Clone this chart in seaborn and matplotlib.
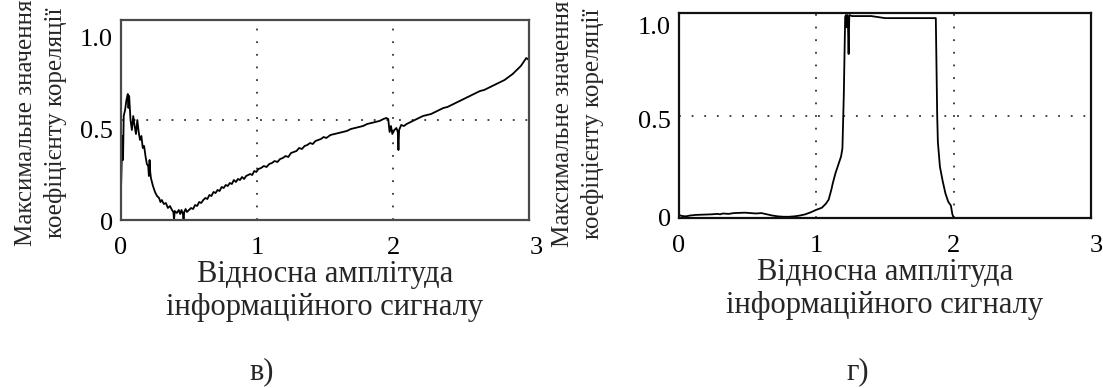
import matplotlib
matplotlib.use("Agg")
import matplotlib.pyplot as plt
from matplotlib.transforms import ScaledTranslation
import numpy as np
import pandas as pd
import seaborn as sns

# Panel "в": correlation maximum vs relative amplitude
amp_v = [0.000, 0.005, 0.010, 0.015, 0.020, 0.030, 0.040, 0.050, 0.055, 0.060,
         0.070, 0.080, 0.090, 0.100, 0.110, 0.120, 0.130, 0.140, 0.150, 0.160,
         0.170, 0.180, 0.190, 0.200, 0.205, 0.210, 0.215, 0.220, 0.235, 0.250,
         0.265, 0.280, 0.290, 0.300, 0.315, 0.330, 0.345, 0.360, 0.375, 0.385,
         0.390, 0.395, 0.410, 0.425, 0.435, 0.445, 0.455, 0.460, 0.465, 0.475,
         0.485, 0.500, 0.515, 0.530, 0.545, 0.560, 0.575, 0.590, 0.605, 0.620,
         0.635, 0.650, 0.665, 0.680, 0.695, 0.710, 0.725, 0.740, 0.755, 0.770,
         0.785, 0.800, 0.815, 0.830, 0.845, 0.860, 0.875, 0.890, 0.905, 0.920,
         0.935, 0.950, 0.965, 0.980, 0.995, 1.010, 1.030, 1.050, 1.070, 1.090,
         1.110, 1.130, 1.150, 1.170, 1.190, 1.210, 1.230, 1.250, 1.270, 1.290,
         1.310, 1.330, 1.350, 1.370, 1.390, 1.410, 1.430, 1.450, 1.470, 1.490,
         1.510, 1.540, 1.570, 1.600, 1.630, 1.660, 1.690, 1.720, 1.750, 1.780,
         1.810, 1.840, 1.870, 1.900, 1.930, 1.950, 1.965, 1.975, 1.985, 1.995,
         2.010, 2.025, 2.035, 2.040, 2.045, 2.060, 2.080, 2.100, 2.130, 2.160,
         2.190, 2.220, 2.250, 2.280, 2.310, 2.340, 2.370, 2.400, 2.430, 2.460,
         2.490, 2.520, 2.550, 2.580, 2.610, 2.640, 2.670, 2.700, 2.730, 2.760,
         2.790, 2.820, 2.850, 2.880, 2.910, 2.940, 2.960, 2.980, 3.000]
corr_v = [0.15, 0.28, 0.42, 0.30, 0.52, 0.55, 0.60, 0.63, 0.56, 0.62,
          0.50, 0.45, 0.52, 0.47, 0.43, 0.50, 0.44, 0.40, 0.42, 0.36,
          0.37, 0.32, 0.28, 0.27, 0.22, 0.30, 0.24, 0.21, 0.17, 0.14,
          0.12, 0.11, 0.09, 0.10, 0.08, 0.085, 0.06, 0.07, 0.05, 0.04,
          0.00, 0.045, 0.035, 0.05, 0.03, 0.05, 0.03, 0.00, 0.04, 0.055,
          0.04, 0.05, 0.06, 0.055, 0.075, 0.07, 0.09, 0.085, 0.10, 0.11,
          0.105, 0.125, 0.12, 0.14, 0.135, 0.15, 0.145, 0.165, 0.16, 0.175,
          0.17, 0.185, 0.18, 0.20, 0.19, 0.205, 0.20, 0.215, 0.205, 0.22,
          0.225, 0.23, 0.225, 0.245, 0.24, 0.255, 0.26, 0.27, 0.265, 0.28,
          0.285, 0.295, 0.29, 0.305, 0.31, 0.32, 0.315, 0.335, 0.34, 0.345,
          0.36, 0.355, 0.37, 0.375, 0.385, 0.38, 0.395, 0.40, 0.405, 0.415,
          0.41, 0.425, 0.43, 0.435, 0.44, 0.445, 0.455, 0.46, 0.465, 0.47,
          0.48, 0.485, 0.49, 0.495, 0.505, 0.51, 0.505, 0.44, 0.47, 0.43,
          0.45, 0.46, 0.44, 0.35, 0.45, 0.475, 0.47, 0.48, 0.49, 0.50,
          0.51, 0.52, 0.525, 0.53, 0.54, 0.55, 0.56, 0.565, 0.575, 0.585,
          0.595, 0.605, 0.615, 0.625, 0.635, 0.645, 0.65, 0.66, 0.67, 0.68,
          0.69, 0.70, 0.715, 0.73, 0.75, 0.77, 0.79, 0.81, 0.80]

# Panel "г": correlation maximum vs relative amplitude
amp_g = [0.000, 0.020, 0.050, 0.080, 0.120, 0.160, 0.200, 0.240, 0.280, 0.300,
         0.320, 0.360, 0.400, 0.440, 0.480, 0.520, 0.560, 0.600, 0.640, 0.680,
         0.720, 0.760, 0.800, 0.840, 0.880, 0.920, 0.960, 1.000, 1.040, 1.070,
         1.090, 1.110, 1.120, 1.140, 1.160, 1.180, 1.190, 1.200, 1.210, 1.215,
         1.220, 1.225, 1.230, 1.235, 1.240, 1.260, 1.300, 1.350, 1.400, 1.450,
         1.500, 1.600, 1.700, 1.800, 1.870, 1.880, 1.885, 1.900, 1.920, 1.940,
         1.960, 1.980, 1.990, 2.000, 3.000]
corr_g = [0.015, 0.010, 0.008, 0.012, 0.015, 0.016, 0.017, 0.018, 0.020, 0.018,
          0.022, 0.020, 0.024, 0.025, 0.026, 0.024, 0.022, 0.024, 0.018, 0.012,
          0.008, 0.006, 0.006, 0.008, 0.012, 0.018, 0.028, 0.040, 0.050, 0.070,
          0.090, 0.140, 0.170, 0.220, 0.260, 0.300, 0.340, 0.600, 0.980, 0.990,
          0.930, 0.990, 0.950, 0.800, 0.990, 0.985, 0.985, 0.985, 0.985, 0.980,
          0.975, 0.975, 0.975, 0.975, 0.975, 0.500, 0.370, 0.250, 0.180, 0.120,
          0.080, 0.060, 0.020, 0.000, 0.000]

x_ticks = [0, 1, 2, 3]
x_ticklabels = ["0", "1", "2", "3"]
y_ticks = [0, 0.5, 1.0]
y_ticklabels = ["0", "0.5", "1.0"]
x_label = "Відносна амплітуда\nінформаційного сигналу"
y_label = "Максимальне значення\nкоефіцієнту кореляції"
captions = ["в)", "г)"]

sns.set_theme(style="white")
plt.rcParams["font.family"] = ["Liberation Serif", "DejaVu Serif"]

fig = plt.figure(figsize=(11.03, 3.88), dpi=100)
ax_v = fig.add_axes([121 / 1103, 1 - 220 / 388, 408 / 1103, 200 / 388])
ax_g = fig.add_axes([679 / 1103, 1 - 218 / 388, 412 / 1103, 205 / 388])

df_v = pd.DataFrame({"amp": amp_v, "corr": corr_v})
df_g = pd.DataFrame({"amp": amp_g, "corr": corr_g})

# axis, data, spine colour, y-label shifts (px, for 0 / 0.5 / 1.0),
# shift of the last x label, y-label position (axes coords)
panels = [
    (ax_v, df_v, "#4a4a4a", [2, 10, 17], 7, (-0.196, 0.485)),
    (ax_g, df_g, "#111111", [0, 4, 12], 5, (-0.245, 0.46)),
]
tick_fs = 19
label_fs = 22
ylabel_fs = 18

for ax, df, spine_col, y_shift, last_shift, ylab_xy in panels:
    sns.lineplot(data=df, x="amp", y="corr", ax=ax, color="black",
                 linewidth=1.3, estimator=None, sort=False)
    ax.set_xlim(0, 3)
    ax.set_ylim(0, 1)
    ax.set_xticks(x_ticks)
    ax.set_xticklabels(x_ticklabels, fontsize=tick_fs)
    ax.set_yticks(y_ticks)
    ax.set_yticklabels(y_ticklabels, fontsize=tick_fs)
    ax.tick_params(axis="both", length=0, colors="black")
    ax.tick_params(axis="x", pad=12)
    ax.tick_params(axis="y", pad=6)
    ax.grid(True, color="#333333", linestyle=(0, (1, 6)), linewidth=1.3)
    for s in ax.spines.values():
        s.set_color(spine_col)
        s.set_linewidth(1.6)
    # Offset the tick labels the way the original plotting package places them
    for lab, dy in zip(ax.get_yticklabels(), y_shift):
        lab.set_transform(lab.get_transform()
                          + ScaledTranslation(0, -dy / 100, fig.dpi_scale_trans))
    last = ax.get_xticklabels()[-1]
    last.set_transform(last.get_transform()
                       + ScaledTranslation(last_shift / 100, 0, fig.dpi_scale_trans))
    ax.set_xlabel(x_label, fontsize=label_fs, linespacing=1.2, labelpad=1)
    ax.set_ylabel(y_label, fontsize=ylabel_fs, linespacing=1.35,
                  va="center", ha="center")
    ax.yaxis.set_label_coords(*ylab_xy)

fig.text(262 / 1103, 1 - 372 / 388, captions[0], fontsize=label_fs,
         ha="center", va="center")
fig.text(858 / 1103, 1 - 372 / 388, captions[1], fontsize=label_fs,
         ha="center", va="center")

fig.savefig("out.png", dpi=100, facecolor="white")
